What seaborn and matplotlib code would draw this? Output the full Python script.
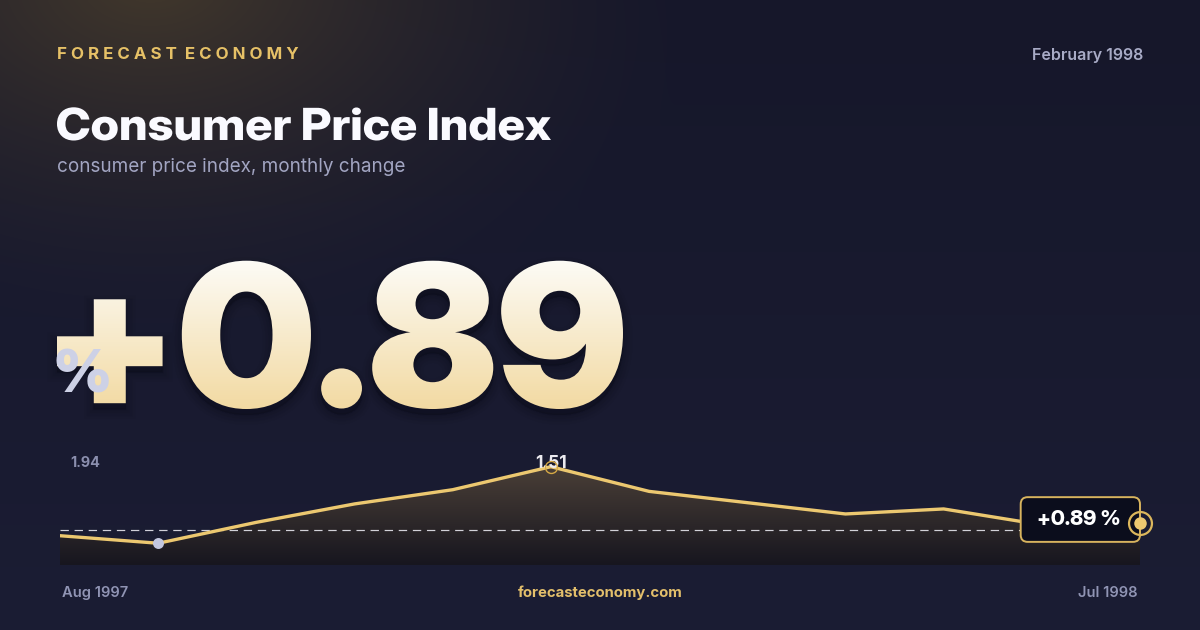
import numpy as np
import pandas as pd
import seaborn as sns
import matplotlib.pyplot as plt
from matplotlib.textpath import TextPath
from matplotlib.patches import PathPatch, FancyBboxPatch
from matplotlib.font_manager import FontProperties
from matplotlib.transforms import Affine2D
from matplotlib.colors import LinearSegmentedColormap

# chart data (monthly change)
months = ['Aug 1997', 'Sep 1997', 'Oct 1997', 'Nov 1997', 'Dec 1997', 'Jan 1998',
          'Feb 1998', 'Mar 1998', 'Apr 1998', 'May 1998', 'Jun 1998', 'Jul 1998']
cpi_change = [-0.14, -0.32, 0.18, 0.62, 0.96, 1.51, 0.92, 0.65, 0.38, 0.50, 0.12, 0.16]
axis_labels = ['1.94', '-0.73']
headline = '+0.89'
latest_label = '+0.89 %'
date_label = 'February 1998'
brand = 'FORECAST ECONOMY'
title = 'Consumer Price Index'
subtitle = 'consumer price index, monthly change'
site = 'forecasteconomy.com'

GOLD = '#ecc870'
W, H = 1200, 630
FONT = 'Inter'
DISPLAY = 'Inter Display'

sns.set_theme(style='white')
plt.rcParams['font.family'] = [FONT, 'DejaVu Sans']

fig = plt.figure(figsize=(W / 100, H / 100), dpi=100)

# background: navy with warm glow top-left
bg = fig.add_axes([0, 0, 1, 1], zorder=0)
bg.set_xlim(0, W)
bg.set_ylim(H, 0)
bg.axis('off')
yy, xx = np.mgrid[0:H, 0:W]
top_c = np.array([22, 23, 42]) / 255
bot_c = np.array([27, 29, 52]) / 255
t = (yy / H)[..., None]
img = top_c * (1 - t) + bot_c * t
glow_c = np.array([66, 56, 44]) / 255
d = np.sqrt(((xx - 150) / 560) ** 2 + ((yy + 20) / 360) ** 2)
w = (np.clip(1 - d, 0, 1) ** 1.5)[..., None]
img = img * (1 - w) + glow_c * w
bg.imshow(img, extent=(0, W, H, 0), aspect='auto', zorder=0)


def fitted_path(s, weight, x0, x1, ytop, ybase):
    tp = TextPath((0, 0), s, size=100, prop=FontProperties(family=DISPLAY, weight=weight))
    ext = tp.get_extents()
    tr = Affine2D().translate(-ext.x0, 0).scale((x1 - x0) / ext.width, -(ybase - ytop) / ext.y1)
    return tp, tr


def gradient_text(ax, s, x0, x1, ytop, ybase, c_top, c_bot):
    tp, base_tr = fitted_path(s, 900, x0, x1, ytop, ybase)
    # soft shadow
    for k, a in enumerate([0.08, 0.06, 0.05, 0.04]):
        sh = PathPatch(tp, transform=base_tr + Affine2D().translate(x0, ybase + 6) + ax.transData,
                       fc='#05060d', ec='#05060d', lw=2 + 4 * k, alpha=a, zorder=2)
        ax.add_patch(sh)
    patch = PathPatch(tp, transform=base_tr + Affine2D().translate(x0, ybase) + ax.transData,
                      fc='none', ec='none', zorder=3)
    ax.add_patch(patch)
    cmap = LinearSegmentedColormap.from_list('g', [c_top, c_bot])
    grad = np.linspace(0, 1, 256)[:, None]
    im = ax.imshow(grad, extent=(x0 - 5, x1 + 5, ybase + 6, ytop - 4), cmap=cmap,
                   aspect='auto', zorder=3)
    im.set_clip_path(patch)


# header texts
bg.text(57, 59.3, '  '.join(' '.join(p) for p in brand.split()), color='#e6c167',
        fontsize=12.2, fontweight='bold', ha='left', va='baseline')
bg.text(1143, 60, date_label, color='#a8abc6', fontsize=11.5, fontweight='semibold',
        ha='right', va='baseline')
tp_title, tr_title = fitted_path(title, 800, 57, 551, 107.3, 140)
bg.add_patch(PathPatch(tp_title, transform=tr_title + Affine2D().translate(57, 140) + bg.transData,
                       fc='#fafaff', ec='none', zorder=3))
bg.text(57, 172.5, subtitle, color='#a2a5c2', fontsize=13.6, ha='left', va='baseline')

gradient_text(bg, headline, 57, 623, 260.7, 406.7, '#fdfcf8', '#f2d9a0')
bg.text(52, 392.7, '%', color='#cdd1e6', fontsize=42, fontweight=900,
        family=[DISPLAY, 'DejaVu Sans'], ha='left', va='baseline', zorder=5)

# footer
bg.text(62, 597, months[0], color='#9094b4', fontsize=10.6, fontweight='semibold',
        ha='left', va='baseline')
bg.text(1138, 597, months[-1], color='#9094b4', fontsize=10.6, fontweight='semibold',
        ha='right', va='baseline')
bg.text(600, 597, site, color='#e3bf6b', fontsize=10.7, fontweight='bold',
        ha='center', va='baseline')
bg.text(70, 466.7, axis_labels[0], color='#8b8fae', fontsize=10.3, fontweight='bold',
        ha='left', va='baseline')
bg.text(70, 552.7, axis_labels[1], color='#8b8fae', fontsize=10.3, fontweight='bold',
        ha='left', va='baseline')

# sparkline chart
df = pd.DataFrame({'month': np.arange(len(months)), 'value': cpi_change})
ymin, ymax = -0.84, 1.94
ax = fig.add_axes([60 / W, (H - 565) / H, 1080 / W, 116.3 / H], zorder=1)
ax.patch.set_alpha(0)

fill = ax.fill_between(df['month'], df['value'], ymin, color='none', lw=0)
fcmap = LinearSegmentedColormap.from_list('f', ['#4a3f37', '#17161f'])
fim = ax.imshow(np.linspace(0, 1, 256)[:, None], cmap=fcmap, aspect='auto',
                extent=(0, len(months) - 1, ymin, df['value'].max()), zorder=1)
fim.set_clip_path(fill.get_paths()[0], ax.transData)

ax.axhline(0, color='#e6e6ee', lw=0.86, ls=(0, (7, 4.8)), alpha=0.9, zorder=2)
sns.lineplot(data=df, x='month', y='value', ax=ax, color=GOLD, lw=2.4, zorder=3)
ax.set_xlim(0, len(months) - 1)
ax.set_ylim(ymin, ymax)
ax.axis('off')

i_min = int(df['value'].idxmin())
i_max = int(df['value'].idxmax())
ax.plot(i_min, df['value'][i_min], 'o', ms=7.9, color='#c3c7df', mec='none', zorder=4,
        clip_on=False)
ax.annotate(f"{df['value'][i_max]:.2f}", (i_max, df['value'][i_max]), xytext=(0, -1.3),
            textcoords='offset pixels', ha='center', va='baseline', color='#ecebf0',
            fontsize=12.5, fontweight='bold', zorder=4)
ax.plot(i_max, df['value'][i_max], 'o', ms=8.6, mfc='none', mec='#d6a945', mew=1.0,
        zorder=5, clip_on=False)

# latest value badge
last = len(months) - 1
px, py = ax.transData.transform((last, df['value'][last]))
anchor = Affine2D().translate(px, py)
badge = FancyBboxPatch((-119.3, -18.7), 119.3, 44.7,
                       boxstyle='round,pad=0,rounding_size=7', fc='#0b0d1c', ec='#d8b45e',
                       lw=1.4, transform=anchor, zorder=6, clip_on=False)
ax.add_patch(badge)
ax.text(-61, -2.2, latest_label, transform=anchor, ha='center', va='baseline',
        color='white', fontsize=15, fontweight=800, family=[DISPLAY, 'DejaVu Sans'],
        zorder=7, clip_on=False)
ax.plot(last, df['value'][last], 'o', ms=16.5, mfc='none', mec='#dcb75c', mew=1.6,
        zorder=8, clip_on=False)
ax.plot(last, df['value'][last], 'o', ms=9, color=GOLD, mec='none', zorder=8,
        clip_on=False)

fig.savefig('out.png', dpi=100)
